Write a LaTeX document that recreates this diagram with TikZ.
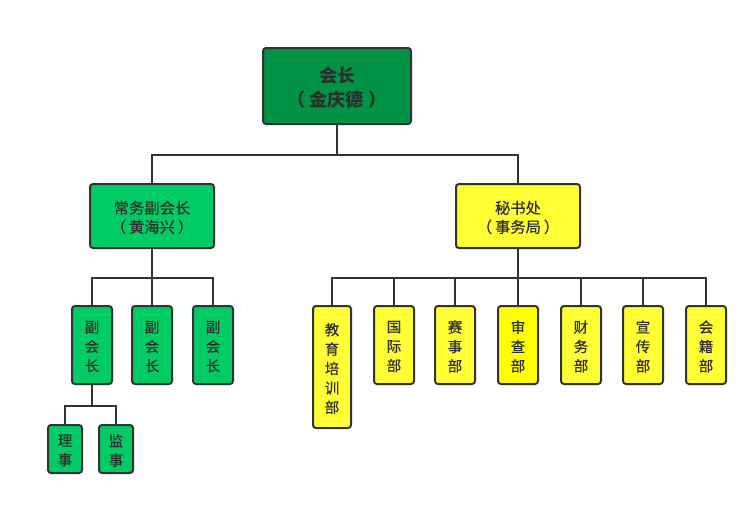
\documentclass[tikz,border=0pt]{standalone}
\usepackage{fontspec}
\newfontfamily\cjk{Noto Sans CJK SC}
\newfontfamily\cjkm[FakeBold=0.4]{Noto Sans CJK SC}
\newcommand\lpar{（\hspace{3pt}}
\newcommand\rpar{\hspace{3pt}）}
\definecolor{linec}{HTML}{333333}
\definecolor{txt}{HTML}{2E2E2E}
\definecolor{darkgreen}{HTML}{009245}
\definecolor{midgreen}{HTML}{00CC66}
\definecolor{lemon}{HTML}{FFFF33}
\definecolor{pureyellow}{HTML}{FFFF00}
\begin{document}
\begin{tikzpicture}[x=1pt,y=-1pt,
  box/.style={draw=linec, line width=2pt, rounded corners=3pt,
    inner sep=0pt, anchor=center},
  words/.style={text=txt, align=center, inner sep=0pt},
  headtext/.style={words, yshift=-2pt, font=\cjk\bfseries\fontsize{18}{24}\selectfont},
  midtext/.style={words, yshift=-1.5pt, font=\cjkm\fontsize{15.3}{19}\selectfont},
  coltext/.style={words, yshift=-1.5pt, font=\cjkm\fontsize{14.5}{19.4}\selectfont},
  headbox/.style={box, fill=darkgreen, minimum width=148pt, minimum height=76pt},
  midbox/.style={box, minimum width=124pt, minimum height=64pt},
  colbox/.style={box, minimum width=40pt, minimum height=78pt},
  smallbox/.style={box, fill=midgreen, minimum width=34pt, minimum height=48pt},
  link/.style={draw=linec, line width=2pt}
]
\useasboundingbox (0,0) rectangle (756,506);

% top level
\node[headbox, label={[headtext]center:会长\\（ 金庆德 ）}] (top) at (337,86) {};

% second level
\node[midbox, fill=midgreen, label={[midtext]center:常务副会长\\\lpar 黄海兴\rpar}] (cw) at (152,216) {};
\node[midbox, fill=lemon, label={[midtext]center:秘书处\\\lpar 事务局\rpar}] (ms) at (518,216) {};

% vice presidents
\node[colbox, fill=midgreen, label={[coltext]center:副\\会\\长}] (vp1) at (92,345) {};
\node[colbox, fill=midgreen, label={[coltext]center:副\\会\\长}] (vp2) at (152,345) {};
\node[colbox, fill=midgreen, label={[coltext]center:副\\会\\长}] (vp3) at (213,345) {};

% directors and supervisors
\node[smallbox, label={[coltext]center:理\\事}] (ls) at (65,449) {};
\node[smallbox, label={[coltext]center:监\\事}] (js) at (116,449) {};

% departments
\node[colbox, fill=lemon, minimum width=38pt, minimum height=122pt,
  label={[coltext]center:教\\育\\培\\训\\部}] (jy) at (332,367) {};
\node[colbox, fill=lemon, label={[coltext]center:国\\际\\部}] (gj) at (394,345) {};
\node[colbox, fill=lemon, label={[coltext]center:赛\\事\\部}] (ss) at (455,345) {};
\node[colbox, fill=pureyellow, label={[coltext]center:审\\查\\部}] (sc) at (518,345) {};
\node[colbox, fill=lemon, label={[coltext]center:财\\务\\部}] (cwb) at (581,345) {};
\node[colbox, fill=lemon, label={[coltext]center:宣\\传\\部}] (xc) at (643,345) {};
\node[colbox, fill=lemon, label={[coltext]center:会\\籍\\部}] (hj) at (706,345) {};

% connectors
\foreach \c in {cw,ms}
  \draw[link] (top.south) -- ++(0,30) -| (\c.north);
\foreach \c in {vp1,vp2,vp3}
  \draw[link] (cw.south) -- ++(0,29) -| (\c.north);
\foreach \c in {ls,js}
  \draw[link] (vp1.south) -- ++(0,21) -| (\c.north);
\foreach \c in {jy,gj,ss,sc,cwb,xc,hj}
  \draw[link] (ms.south) -- ++(0,29) -| (\c.north);
\end{tikzpicture}
\end{document}
